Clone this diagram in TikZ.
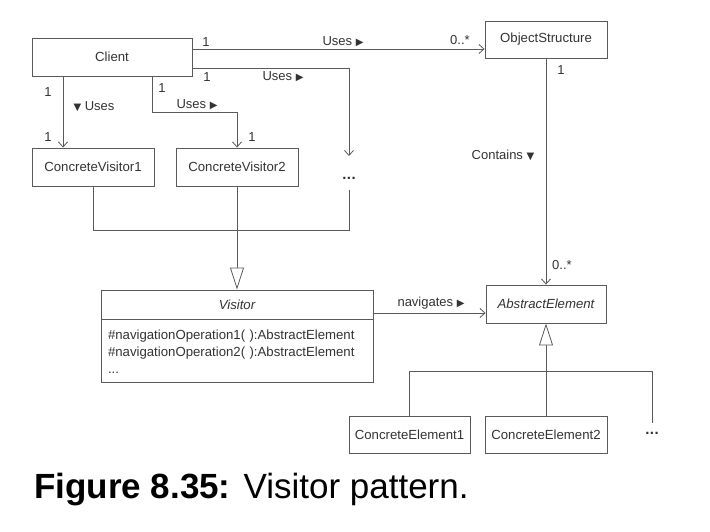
\documentclass[tikz,border=0pt]{standalone}
\usepackage{fontspec}
\setmainfont{Liberation Sans}
\newfontfamily\symfont{DejaVu Sans}
\usetikzlibrary{arrows.meta}
\definecolor{ln}{HTML}{5A5A5A}
\definecolor{tx}{HTML}{333333}
\newcommand{\rtri}{{\symfont\fontsize{10}{10}\selectfont ▶}}
\newcommand{\dtri}{{\symfont\fontsize{10}{10}\selectfont ▼}}
\newcommand{\tdots}{{\bfseries\fontsize{15}{15}\selectfont .\kern0.5pt.\kern0.5pt.}}
\begin{document}
\begin{tikzpicture}[x=1pt,y=-1pt,
  box/.style={draw=ln,line width=0.9pt,inner sep=0pt,text=tx,font=\fontsize{13.2}{15}\selectfont},
  lbl/.style={text=tx,inner sep=0pt,font=\fontsize{13}{15}\selectfont},
  line/.style={draw=ln,line width=0.8pt},
  assoc/.style={line,-{Straight Barb[length=5pt,width=9pt]}},
  gen/.style={line,-{Triangle[open,length=22pt,width=14pt,fill=white]}}]
\useasboundingbox (0,0) rectangle (710,532);
% boxes
\node[box,minimum width=160pt,minimum height=38pt] (client) at (112,57) {Client};
\node[box,minimum width=122pt,minimum height=37pt] (objs) at (546,39.5) {ObjectStructure};
\node[box,minimum width=122pt,minimum height=38pt] (cv1) at (93,167) {ConcreteVisitor1};
\node[box,minimum width=122pt,minimum height=38pt] (cv2) at (237,167) {ConcreteVisitor2};
\node[lbl,inner sep=0pt,minimum height=24pt] (dotsv) at (349,178) {\tdots};
\coordinate (dvtop) at (349,156);
\node[box,minimum width=272pt,minimum height=29pt,font=\itshape\fontsize{13.2}{15}\selectfont] (vtop) at (237,304.5) {Visitor};
\node[box,minimum width=272pt,minimum height=63pt,anchor=north,align=left,text width=258pt,inner sep=0pt,font=\fontsize{13.2}{17}\selectfont] (vbody) at (vtop.south) {\#navigationOperation1(\,\,):AbstractElement\\\#navigationOperation2(\,\,):AbstractElement\\...};
\node[box,minimum width=120pt,minimum height=38pt,font=\itshape\fontsize{13.2}{15}\selectfont] (abs) at (546,304) {AbstractElement};
\node[box,minimum width=121pt,minimum height=37pt] (ce1) at (409.5,434.5) {ConcreteElement1};
\node[box,minimum width=122pt,minimum height=37pt] (ce2) at (546,434.5) {ConcreteElement2};
\node[lbl,inner sep=0pt,minimum height=20pt] (dotse) at (652,433) {\tdots};
\coordinate (j1) at (237,230);
\coordinate (j2) at (546,371);
% connectors
\draw[assoc] ([yshift=8pt]client.east) -- ([yshift=8pt]client.east -| objs.west);
\draw[assoc] ([yshift=-11pt]client.east) -| (dvtop);
\draw[assoc] ([xshift=-49pt]client.south) -- ([xshift=-49pt]client.south |- cv1.north);
\draw[assoc] ([xshift=40pt]client.south) -- ++(0,36) -| (cv2.north);
\draw[line] (cv1.south) |- (j1);
\draw[line] (dotsv.south) |- (j1);
\draw[gen] (cv2.south) -- (vtop.north);
\draw[assoc] ([yshift=-8.5pt]vtop.east) -- ([yshift=-8.5pt]vtop.east -| abs.west);
\draw[assoc] (objs.south) -- (abs.north);
\draw[line] (ce1.north) |- (j2);
\draw[line] (dotse.north) |- (j2);
\draw[gen] (ce2.north) -- (abs.south);
% labels
\node[lbl] (l1) at (206,42) {1};
\node[lbl] (lu1) at (343,42) {Uses \rtri};
\node[lbl] (lm1) at (460,40) {0..*};
\node[lbl] (l2) at (207,77) {1};
\node[lbl] (lu2) at (283,77) {Uses \rtri};
\node[lbl] (l3) at (48,92) {1};
\node[lbl] (lu3) at (94,107) {\dtri\ Uses};
\node[lbl] (l4) at (48,137) {1};
\node[lbl] (l5) at (162,88) {1};
\node[lbl] (lu5) at (197,105) {Uses \rtri};
\node[lbl] (l6) at (252,137) {1};
\node[lbl] (l7) at (561,70) {1};
\node[lbl] (lc) at (503,155) {Contains \dtri};
\node[lbl] (l8) at (562,265) {0..*};
\node[lbl] (lnav) at (431,303) {navigates \rtri};
% caption
\node[anchor=west,inner sep=0pt,font=\fontsize{35}{40}\selectfont] (cap) at (34,490) {\textbf{Figure 8.35:} Visitor pattern.};
\end{tikzpicture}
\end{document}
